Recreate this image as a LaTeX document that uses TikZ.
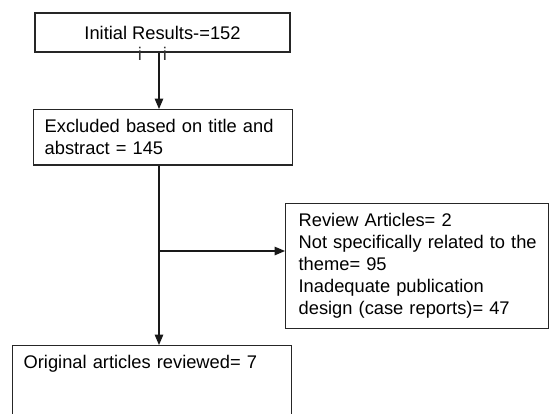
\documentclass[tikz,border=0pt]{standalone}
\usepackage{fontspec}
\setmainfont{Liberation Sans}
\usetikzlibrary{arrows}

\tikzset{
  flowbox/.style={rectangle,draw=black!85,line width=1.3pt,align=left,
    inner xsep=12pt,inner ysep=10pt,font=\fontsize{18.3}{22}\selectfont},
  flowline/.style={draw=black!90,line width=1.4pt},
}

\begin{document}
\begin{tikzpicture}[x=1pt,y=-1pt]
\useasboundingbox (0,0) rectangle (549,413);
\clip (0,0) rectangle (549,413);
\node[flowbox,align=center,minimum width=255pt,minimum height=39pt] (init) at (162.5,32.5) {Initial Results-=152};
\node[font=\fontsize{18.3}{22}\selectfont,text=black!80,inner sep=0pt,anchor=base] (i1) at (140,60) {i};
\node[font=\fontsize{18.3}{22}\selectfont,text=black!80,inner sep=0pt,anchor=base] (i2) at (165,60) {i};
\node[flowbox,anchor=north west,inner xsep=11pt,text width=237pt] (excl) at (33,109) {\mbox{Excluded based on title and}\\abstract = 145};
\node[flowbox,anchor=north west,inner xsep=13pt,text width=237pt] (rev) at (285,203) {Review Articles= 2\\\mbox{Not specifically related to the}\\theme= 95\\Inadequate publication\\design (case reports)= 47};
\node[flowbox,anchor=north west,inner xsep=11pt,text width=257pt,text depth=80pt] (orig) at (12,345) {Original articles reviewed= 7};
\coordinate (spine) at (159,0);
\coordinate (branch) at (159,251);
\draw[flowline,-triangle 45] (init.south -| spine) -- (excl.north -| spine);
\draw[flowline,-triangle 45] (excl.south -| spine) -- (orig.north -| spine);
\draw[flowline,-triangle 45] (branch) -- (branch -| rev.west);
\end{tikzpicture}
\end{document}
